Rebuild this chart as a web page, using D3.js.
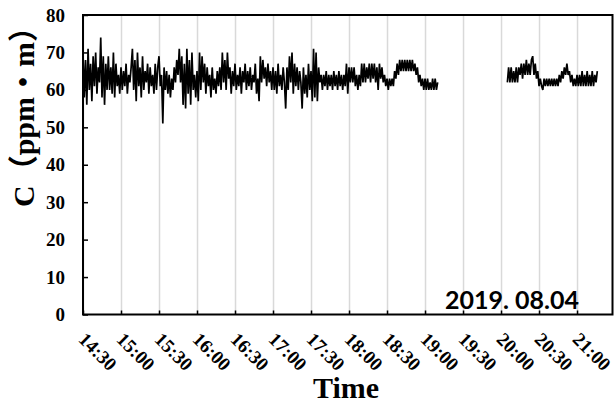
<!DOCTYPE html>
<html>
<head>
<meta charset="utf-8">
<script src="https://cdn.jsdelivr.net/npm/d3@7"></script>
<style>
  html, body { margin: 0; padding: 0; background: #fff; }
  svg { display: block; }
</style>
</head>
<body>
<div id="chart"></div>
<script>
const WIDTH = 614;
const HEIGHT = 403;
const MARGIN = { top: 15, right: 1.5, bottom: 88.5, left: 83 };

const DAY = "2019-08-04";
const DOMAIN_START = "14:30";
const DOMAIN_END = "21:28";
const TICK_MINUTES = 30;
const Y_TICKS = [0, 10, 20, 30, 40, 50, 60, 70, 80];

const X_TITLE = "Time";
const Y_TITLE = "C（ppm・m）";
const DATE_NOTE = "2019. 08.04";

// one reading per minute, first block starts 14:30
const SEGMENT_A_START = "14:30";
const SEGMENT_A = [
  70, 58, 68, 56, 71, 60, 67, 57, 69, 61,
  70, 59, 66, 62, 74, 58, 69, 56, 67, 60,
  69, 60, 66, 59, 70, 58, 67, 61, 64, 59,
  66, 60, 65, 61, 67, 59, 64, 62, 66, 71,
  60, 68, 57, 70, 61, 66, 58, 69, 60, 65,
  62, 67, 59, 66, 61, 64, 59, 67, 60, 66,
  69, 61, 64, 51, 66, 60, 65, 59, 64, 58,
  63, 60, 66, 62, 68, 64, 71, 62, 69, 56,
  67, 55, 71, 59, 68, 56, 70, 60, 64, 58,
  65, 57, 70, 60, 69, 62, 67, 59, 66, 61,
  64, 58, 66, 60, 63, 59, 65, 61, 66, 60,
  70, 62, 68, 60, 70, 63, 66, 59, 65, 61,
  67, 60, 64, 61, 66, 59, 65, 62, 67, 60,
  65, 61, 66, 60, 64, 62, 67, 59, 63, 57,
  69, 62, 68, 63, 66, 61, 67, 62, 65, 60,
  66, 60, 65, 59, 67, 61, 64, 60, 66, 62,
  55, 66, 60, 69, 62, 70, 59, 67, 61, 66,
  60, 65, 62, 55, 66, 59, 64, 58, 67, 60,
  65, 57, 71, 58, 70, 57, 66, 62, 64, 60,
  64, 61, 65, 60, 64, 61, 64, 60, 65, 61,
  64, 60, 65, 61, 64, 60, 64, 61, 67, 59,
  66, 62, 66, 62, 66, 61, 64, 60, 64, 61,
  67, 62, 67, 62, 66, 63, 67, 62, 67, 63,
  67, 62, 66, 60, 67, 63, 66, 62, 64, 61,
  63, 60, 63, 61, 63, 61, 65, 63, 67, 64,
  68, 65, 68, 65, 68, 65, 68, 65, 68, 65,
  68, 65, 67, 64, 66, 62, 64, 61, 63, 60,
  63, 60, 63, 60, 62, 60, 63, 60, 63, 60, 62
];

// second block after the gap, starts 20:05
const SEGMENT_B_START = "20:05";
const SEGMENT_B = [
  62, 66, 62, 66, 62, 65, 62, 66, 62, 66,
  64, 67, 63, 67, 64, 68, 64, 67, 64, 68,
  69, 64, 67, 63, 65, 61, 63, 61, 60, 63,
  61, 63, 61, 63, 61, 63, 61, 63, 61, 63,
  61, 64, 62, 65, 63, 66, 64, 67, 64, 65,
  62, 64, 61, 63, 61, 64, 61, 64, 61, 65,
  61, 64, 61, 65, 61, 64, 61, 65, 61, 64, 62, 65
];

const parseTime = d3.timeParse("%Y-%m-%d %H:%M");
const toSeries = (start, values) => {
  const t0 = parseTime(`${DAY} ${start}`);
  return values.map((value, i) => ({ time: d3.timeMinute.offset(t0, i), value }));
};
const segments = [toSeries(SEGMENT_A_START, SEGMENT_A), toSeries(SEGMENT_B_START, SEGMENT_B)];

const svg = d3
  .select("#chart")
  .append("svg")
  .attr("width", WIDTH)
  .attr("height", HEIGHT);

const x = d3
  .scaleTime()
  .domain([parseTime(`${DAY} ${DOMAIN_START}`), parseTime(`${DAY} ${DOMAIN_END}`)])
  .range([MARGIN.left, WIDTH - MARGIN.right]);
const y = d3.scaleLinear().domain([0, 80]).range([HEIGHT - MARGIN.bottom, MARGIN.top]);

const plotBottom = HEIGHT - MARGIN.bottom;
const plotHeight = plotBottom - MARGIN.top;
const serif = '"Liberation Serif", "Times New Roman", "Noto Sans CJK SC", serif';

// vertical gridlines
svg
  .append("g")
  .attr("class", "grid")
  .attr("transform", `translate(0,${plotBottom})`)
  .call(d3.axisBottom(x).ticks(d3.timeMinute.every(TICK_MINUTES)).tickSize(-plotHeight).tickFormat(""))
  .call((g) => g.select(".domain").remove())
  .call((g) => g.selectAll("line").attr("stroke", "#d9d9d9").attr("stroke-width", 1.5));

const line = d3
  .line()
  .x((d) => x(d.time))
  .y((d) => y(d.value));

svg
  .append("g")
  .selectAll("path")
  .data(segments)
  .join("path")
  .attr("d", line)
  .attr("fill", "none")
  .attr("stroke", "#000")
  .attr("stroke-width", 1.7);

// x axis, ticks inside, labels rotated
svg
  .append("g")
  .attr("class", "x-axis")
  .attr("transform", `translate(0,${plotBottom})`)
  .call(
    d3
      .axisBottom(x)
      .ticks(d3.timeMinute.every(TICK_MINUTES))
      .tickFormat(d3.timeFormat("%H:%M"))
      .tickSizeInner(-4)
      .tickSizeOuter(0)
  )
  .call((g) => g.select(".domain").remove())
  .call((g) => g.selectAll("line").attr("stroke", "#000").attr("stroke-width", 1.5))
  .call((g) =>
    g
      .selectAll("text")
      .attr("x", -6)
      .attr("y", 26)
      .attr("dy", null)
      .attr("text-anchor", "start")
      .attr("transform", "rotate(45,-6,26)")
      .attr("font-family", serif)
      .attr("font-weight", 700)
      .attr("font-size", 19)
      .attr("fill", "#000")
  );

svg
  .append("g")
  .attr("class", "y-axis")
  .attr("transform", `translate(${MARGIN.left},0)`)
  .call(d3.axisLeft(y).tickValues(Y_TICKS).tickSizeInner(-5).tickSizeOuter(0).tickPadding(18))
  .call((g) => g.select(".domain").remove())
  .call((g) => g.selectAll("line").attr("stroke", "#000").attr("stroke-width", 1.5))
  .call((g) =>
    g
      .selectAll("text")
      .attr("font-family", serif)
      .attr("font-weight", 700)
      .attr("font-size", 19)
      .attr("fill", "#000")
  );

// plot frame
svg
  .append("rect")
  .attr("x", MARGIN.left)
  .attr("y", MARGIN.top)
  .attr("width", WIDTH - MARGIN.right - MARGIN.left)
  .attr("height", plotHeight)
  .attr("fill", "none")
  .attr("stroke", "#000")
  .attr("stroke-width", 2);

svg
  .append("text")
  .attr("x", 346)
  .attr("y", 398)
  .attr("text-anchor", "middle")
  .attr("font-family", serif)
  .attr("font-weight", 700)
  .attr("font-size", 30)
  .text(X_TITLE);

svg
  .append("text")
  .attr("transform", "translate(34,207) rotate(-90)")
  .attr("text-anchor", "start")
  .attr("font-family", serif)
  .attr("font-weight", 700)
  .attr("font-size", 30)
  .text(Y_TITLE);

svg
  .append("text")
  .attr("x", 445)
  .attr("y", 309)
  .attr("font-family", "Lato, 'Liberation Sans', sans-serif")
  .attr("font-weight", 700)
  .attr("font-size", 25)
  .text(DATE_NOTE);
</script>
</body>
</html>
